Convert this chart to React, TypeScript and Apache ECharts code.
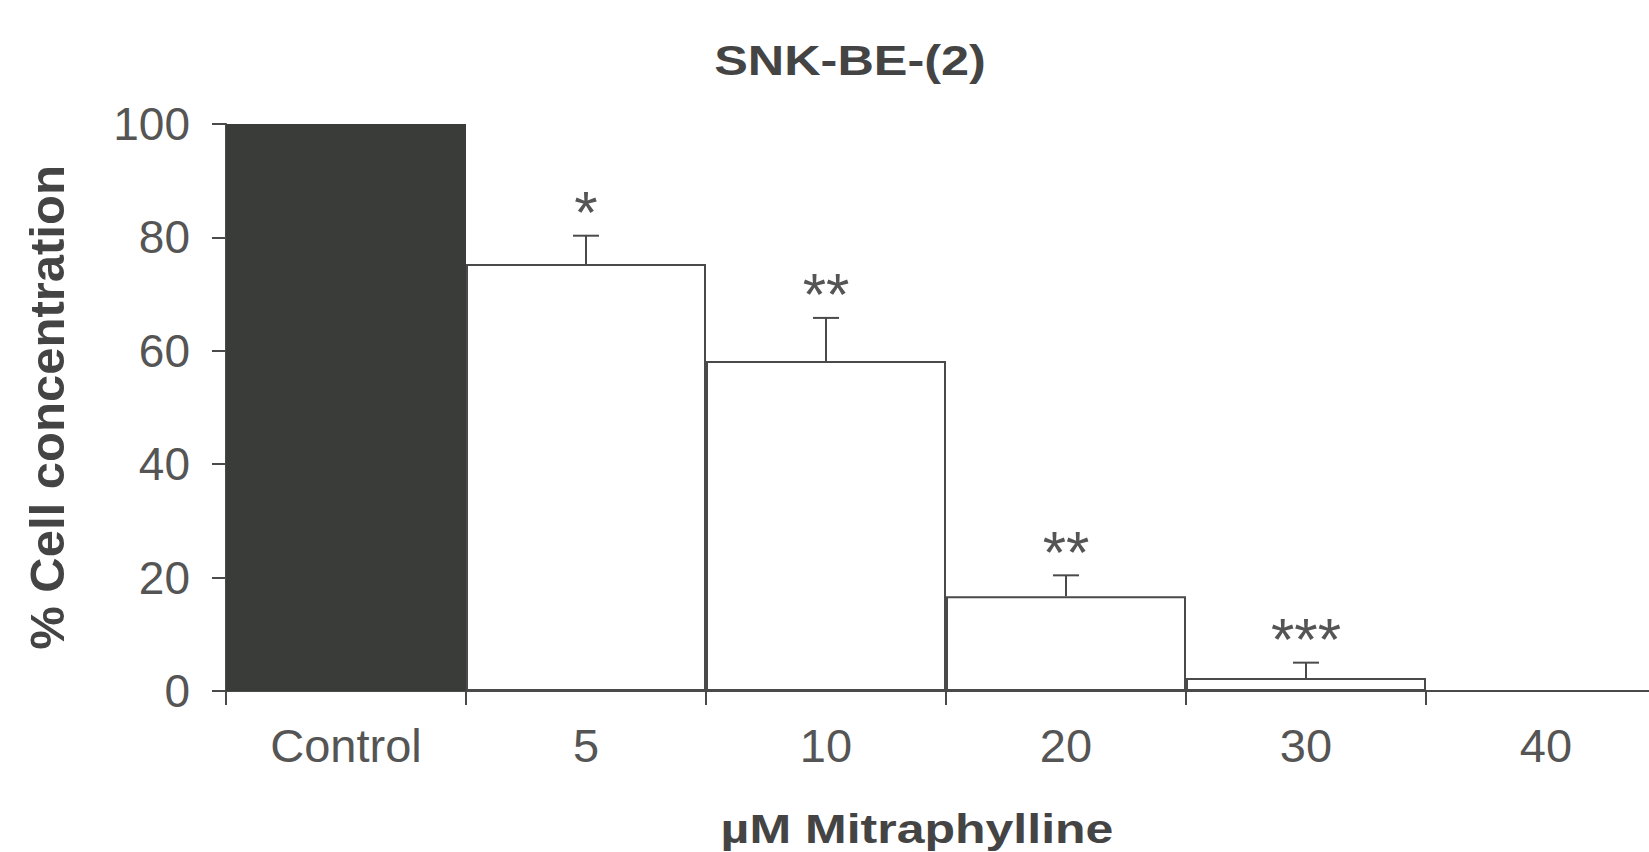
import React, { useEffect, useRef } from "react";
import * as echarts from "echarts";

const categories = ["Control", "5", "10", "20", "30", "40"];
const means = [100, 75.3, 58.2, 16.7, 2.3, 0];
const upperErrors = [0, 5.0, 7.6, 3.7, 2.7, 0];
const stars = ["", "*", "**", "**", "***", ""];
const yTicks = [0, 20, 40, 60, 80, 100];

const FONT = "'Liberation Sans', Arial, sans-serif";
const LINE = "#4a4a4a";
const TEXT = "#555555";

export default function App() {
  const ref = useRef<HTMLDivElement>(null);
  useEffect(() => {
    if (!ref.current) return;
    const chart = echarts.init(ref.current, undefined, { renderer: "svg" });
    const option: any = {
      animation: false,
      backgroundColor: "#ffffff",
      grid: { left: 226, top: 124, height: 567, right: 14, containLabel: false },
      graphic: [
        {
          type: "text",
          x: 850,
          y: 61,
          scaleX: 1.2,
          style: {
            text: "SNK-BE-(2)",
            font: `bold 42px ${FONT}`,
            fill: "#444",
            textAlign: "center",
            textVerticalAlign: "middle",
          },
        },
        {
          type: "text",
          x: 917,
          y: 829,
          scaleX: 1.22,
          style: {
            text: "\u00b5M Mitraphylline",
            font: `bold 41px ${FONT}`,
            fill: "#444",
            textAlign: "center",
            textVerticalAlign: "middle",
          },
        },
      ],
      xAxis: {
        type: "category",
        data: categories,
        boundaryGap: true,
        axisLine: { show: true, lineStyle: { color: LINE, width: 2 } },
        axisTick: { show: true, length: 14, lineStyle: { color: LINE, width: 2 } },
        axisLabel: { color: TEXT, fontSize: 47, fontFamily: FONT, margin: 31 },
        splitLine: { show: false },
      },
      yAxis: {
        type: "value",
        min: yTicks[0],
        max: yTicks[yTicks.length - 1],
        interval: 20,
        name: "% Cell concentration",
        nameLocation: "middle",
        nameGap: 155,
        nameTextStyle: { color: "#444", fontSize: 49, fontWeight: "bold", fontFamily: FONT },
        axisLine: { show: true, lineStyle: { color: LINE, width: 2 } },
        axisTick: { show: true, length: 14, lineStyle: { color: LINE, width: 2 } },
        axisLabel: { color: TEXT, fontSize: 46, fontFamily: FONT, margin: 36 },
        splitLine: { show: false },
      },
      series: [
        {
          type: "bar",
          barCategoryGap: "0%",
          data: means.map((v, i) => ({
            value: v,
            itemStyle: {
              color: i === 0 ? "#393c39" : "#ffffff",
              borderColor: i === 0 ? "#393c39" : LINE,
              borderWidth: 2,
            },
          })),
          z: 2,
        },
        {
          type: "custom",
          z: 3,
          data: categories.map((c, i) => [i, means[i], upperErrors[i]]),
          renderItem: (params: any, api: any) => {
            const i = params.dataIndex;
            const m = api.value(1);
            const e = api.value(2);
            const children: any[] = [];
            if (e > 0) {
              const base = api.coord([i, m]);
              const top = api.coord([i, m + e]);
              children.push({
                type: "line",
                shape: { x1: base[0], y1: base[1], x2: top[0], y2: top[1] },
                style: { stroke: LINE, lineWidth: 2 },
              });
              children.push({
                type: "line",
                shape: { x1: top[0] - 13, y1: top[1], x2: top[0] + 13, y2: top[1] },
                style: { stroke: LINE, lineWidth: 2 },
              });
              if (stars[i]) {
                children.push({
                  type: "text",
                  x: top[0],
                  y: top[1] - 23,
                  style: {
                    text: stars[i],
                    font: `60px ${FONT}`,
                    fill: TEXT,
                    textAlign: "center",
                    textVerticalAlign: "middle",
                  },
                });
              }
            }
            return { type: "group", children };
          },
        },
      ],
    };
    chart.setOption(option);
    return () => chart.dispose();
  }, []);
  return (
    <div
      ref={ref}
      style={{ position: "fixed", left: 0, top: 0, width: 1680, height: 852, background: "#fff" }}
    />
  );
}
